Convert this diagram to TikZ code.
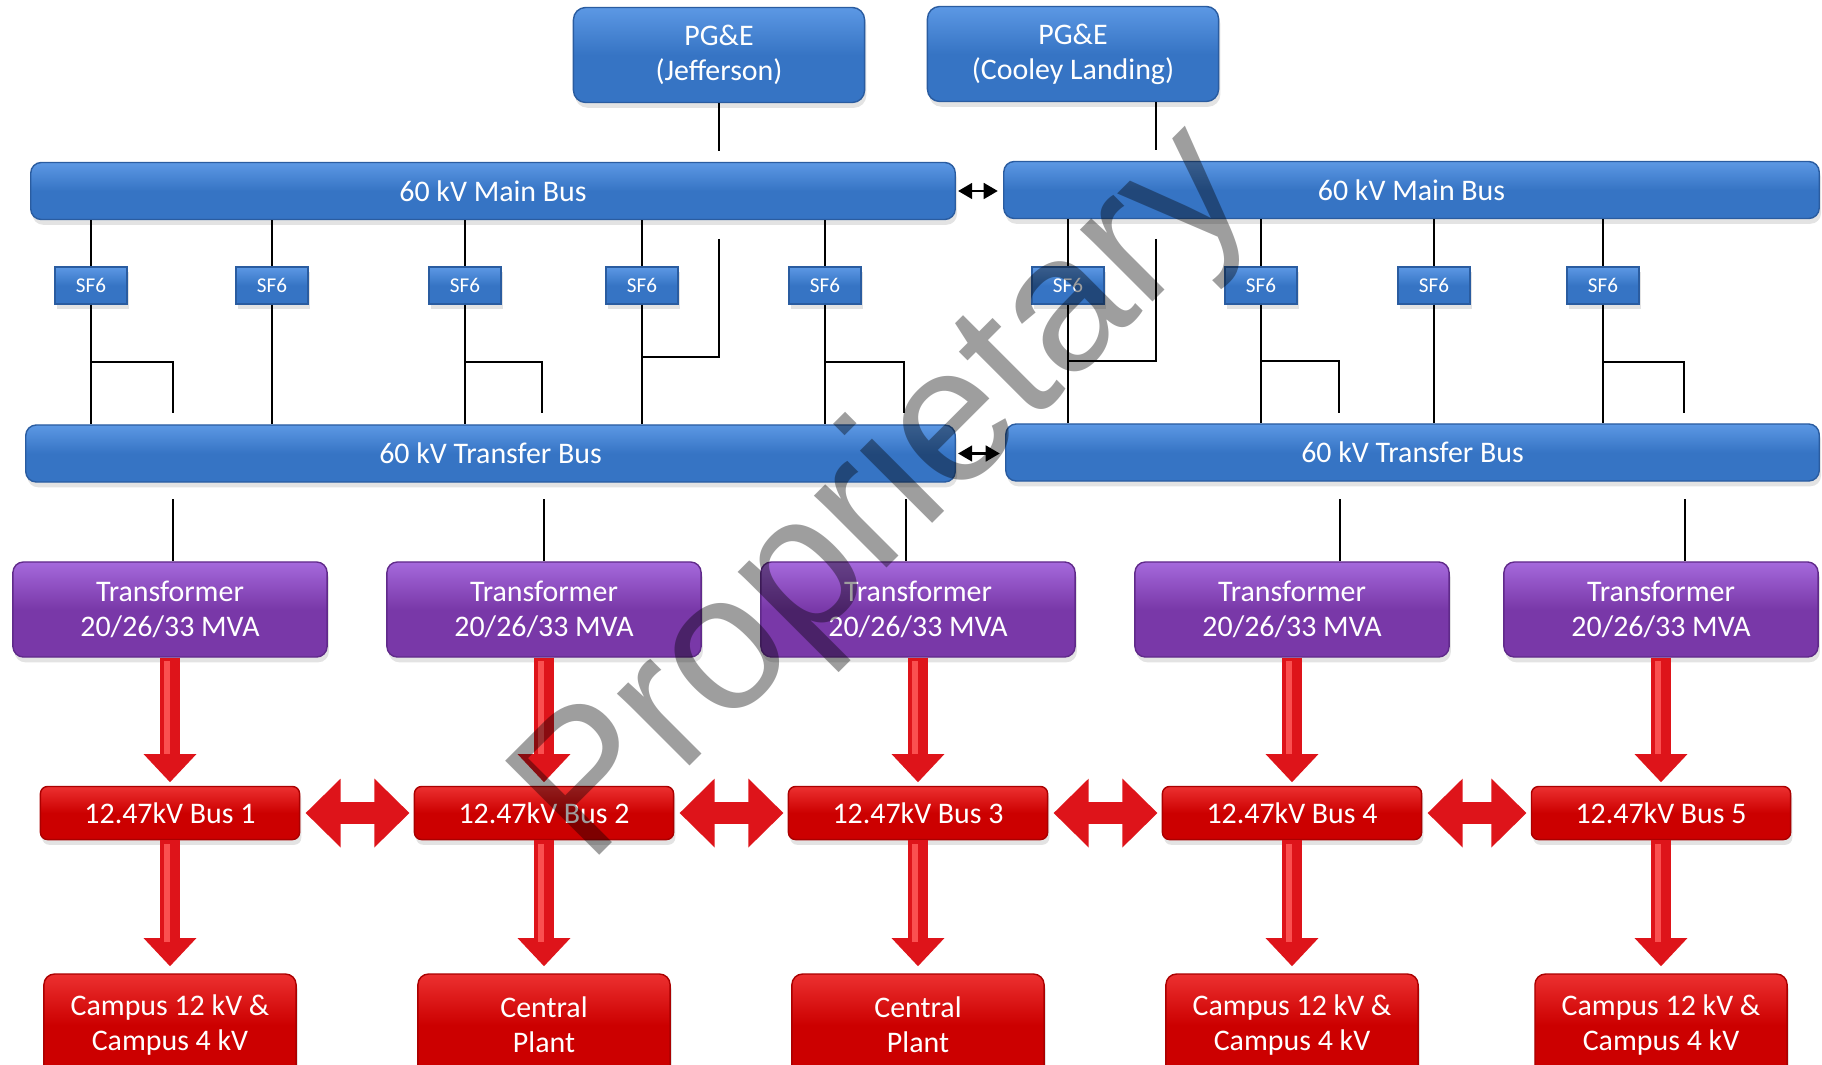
\documentclass[tikz,border=0pt]{standalone}
\usepackage{fontspec}
\setmainfont{Carlito}
\newfontfamily\wmfont{Liberation Sans}
\usetikzlibrary{positioning,arrows.meta,shadows}

\definecolor{busblue}{RGB}{54,116,196}
\definecolor{busblueT}{RGB}{92,152,228}
\definecolor{busedge}{RGB}{42,92,160}
\definecolor{trpurple}{RGB}{121,56,168}
\definecolor{trpurpleT}{RGB}{165,105,220}
\definecolor{tredge}{RGB}{96,42,138}
\definecolor{lvred}{RGB}{204,0,0}
\definecolor{lvredT}{RGB}{236,48,48}
\definecolor{lvedge}{RGB}{170,0,0}
\definecolor{arrred}{RGB}{222,20,26}
\definecolor{arrhl}{RGB}{250,80,80}

\tikzstyle{box}=[text=white, align=center, inner sep=0pt,
  font=\fontsize{8.5}{10}\selectfont,
  drop shadow={shadow xshift=0.5pt,shadow yshift=-1.5pt,opacity=0.22}]
\tikzstyle{bluebox}=[box, draw=busedge, top color=busblueT, bottom color=busblue, middle color=busblue]
\tikzstyle{pge}=[bluebox, rounded corners=3.5pt, minimum width=2.91cm, minimum height=0.95cm]
\tikzstyle{hvbus}=[bluebox, rounded corners=3pt, minimum height=0.57cm]
\tikzstyle{breaker}=[bluebox, minimum width=0.72cm, minimum height=0.37cm, font=\fontsize{6}{7}\selectfont]
\tikzstyle{xfmr}=[box, draw=tredge, top color=trpurpleT, bottom color=trpurple, middle color=trpurple,
  rounded corners=3pt, minimum width=3.14cm, minimum height=0.95cm]
\tikzstyle{redbox}=[box, draw=lvedge, top color=lvredT, bottom color=lvred, middle color=lvred]
\tikzstyle{lvbus}=[redbox, rounded corners=2pt, minimum width=2.59cm, minimum height=0.53cm]
\tikzstyle{load}=[redbox, rounded corners=3pt, minimum width=2.52cm, minimum height=1.02cm]
\tikzstyle{blk}=[line width=0.6pt, black]
\tikzstyle{mvtie}=[line width=0.6pt, {Triangle[length=4pt,width=4.5pt]}-{Triangle[length=4pt,width=4.5pt]},
  shorten <=0.6pt, shorten >=1.5pt]
\tikzstyle{feedarrow}=[arrred, line width=5.6pt, -{Triangle[length=8pt,width=14.5pt]}]
\tikzstyle{shine}=[postaction={draw=arrhl, line width=1.6pt, -, shorten <=1pt, shorten >=9pt,
  transform canvas={xshift=-0.9pt}}]
\tikzstyle{lvtie}=[arrred, line width=6.4pt, {Triangle[length=10pt,width=19pt]}-{Triangle[length=10pt,width=19pt]},
  shorten <=1.5pt, shorten >=1.2pt]
\tikzstyle{wmark}=[rotate=45, inner sep=0pt, text=black, text opacity=0.38,
  font=\wmfont\fontsize{55}{55}\selectfont]

\begin{document}
\begin{tikzpicture}[x=0.01cm,y=-0.01cm]
    \useasboundingbox (0,0) rectangle (1822,1064);

          % supply and 60 kV buses
          \node[pge]   (pg_j) at (719,55)  {PG\&E\\(Jefferson)};
          \node[pge]   (pg_c) at (1073,54) {PG\&E\\(Cooley Landing)};
          \node[hvbus, minimum width=9.24cm] (mb_l) at (493,191)    {60 kV Main Bus};
          \node[hvbus, minimum width=8.15cm] (mb_r) at (1411.5,190) {60 kV Main Bus};
          \node[hvbus, minimum width=9.29cm] (tb_l) at (490.5,453.5) {60 kV Transfer Bus};
          \node[hvbus, minimum width=8.13cm] (tb_r) at (1412.5,452.5) {60 kV Transfer Bus};

          \node[breaker] (sf_1) at (91,285.5)   {SF6};
          \node[breaker] (sf_2) at (272,285.5)  {SF6};
          \node[breaker] (sf_3) at (465,285.5)  {SF6};
          \node[breaker] (sf_4) at (642,285.5)  {SF6};
          \node[breaker] (sf_5) at (825,285.5)  {SF6};
          \node[breaker] (sf_6) at (1068,285.5) {SF6};
          \node[breaker] (sf_7) at (1261,285.5) {SF6};
          \node[breaker] (sf_8) at (1434,285.5) {SF6};
          \node[breaker] (sf_9) at (1603,285.5) {SF6};

          % transformers, 12.47 kV buses and loads
          \node[xfmr]  (tr_1) at (170,609.5)  {Transformer\\20/26/33 MVA};
          \node[xfmr]  (tr_2) at (544,609.5)  {Transformer\\20/26/33 MVA};
          \node[xfmr]  (tr_3) at (918,609.5)  {Transformer\\20/26/33 MVA};
          \node[xfmr]  (tr_4) at (1292,609.5) {Transformer\\20/26/33 MVA};
          \node[xfmr]  (tr_5) at (1661,609.5) {Transformer\\20/26/33 MVA};

          \node[lvbus] (bus_1) [below=1.28cm of tr_1] {12.47kV Bus 1};
          \node[lvbus] (bus_2) [below=1.28cm of tr_2] {12.47kV Bus 2};
          \node[lvbus] (bus_3) [below=1.28cm of tr_3] {12.47kV Bus 3};
          \node[lvbus] (bus_4) [below=1.28cm of tr_4] {12.47kV Bus 4};
          \node[lvbus] (bus_5) [below=1.28cm of tr_5] {12.47kV Bus 5};

          \node[load]  (ld_1) [below=1.33cm of bus_1] {Campus 12 kV \&\\Campus 4 kV};
          \node[load]  (ld_2) [below=1.33cm of bus_2] {Central\\Plant};
          \node[load]  (ld_3) [below=1.33cm of bus_3] {Central\\Plant};
          \node[load]  (ld_4) [below=1.33cm of bus_4] {Campus 12 kV \&\\Campus 4 kV};
          \node[load]  (ld_5) [below=1.33cm of bus_5] {Campus 12 kV \&\\Campus 4 kV};

          % free ends of the black lines
          \coordinate (jf_a) at (719,239);  \coordinate (jf_b) at (719,357);
          \coordinate (cl_t) at (1156,150); \coordinate (cl_a) at (1156,239);
          \coordinate (cl_b) at (1156,361);
          \coordinate (kn_1) at (173,362);  \coordinate (kn_2) at (542,362);
          \coordinate (kn_3) at (904,362);  \coordinate (kn_4) at (1339,361);
          \coordinate (kn_5) at (1684,362);
          \coordinate (fd_1) at (173,499);  \coordinate (fd_2) at (544,499);
          \coordinate (fd_3) at (906,499);  \coordinate (fd_4) at (1340,499);
          \coordinate (fd_5) at (1685,499);

          \draw[blk] (pg_j.south) -- ++(0,48);
          \draw[blk] (pg_c.south -| cl_t) -- (cl_t);
          \draw[blk] (jf_a) -- (jf_b) -- (jf_b -| sf_4);
          \draw[blk] (cl_a) -- (cl_b) -- (cl_b -| sf_6);

          \draw[blk] (sf_1 |- mb_l.south) -- (sf_1.north) (sf_1.south) -- (sf_1 |- tb_l.north);
          \draw[blk] (sf_2 |- mb_l.south) -- (sf_2.north) (sf_2.south) -- (sf_2 |- tb_l.north);
          \draw[blk] (sf_3 |- mb_l.south) -- (sf_3.north) (sf_3.south) -- (sf_3 |- tb_l.north);
          \draw[blk] (sf_4 |- mb_l.south) -- (sf_4.north) (sf_4.south) -- (sf_4 |- tb_l.north);
          \draw[blk] (sf_5 |- mb_l.south) -- (sf_5.north) (sf_5.south) -- (sf_5 |- tb_l.north);
          \draw[blk] (sf_6 |- mb_r.south) -- (sf_6.north) (sf_6.south) -- (sf_6 |- tb_r.north);
          \draw[blk] (sf_7 |- mb_r.south) -- (sf_7.north) (sf_7.south) -- (sf_7 |- tb_r.north);
          \draw[blk] (sf_8 |- mb_r.south) -- (sf_8.north) (sf_8.south) -- (sf_8 |- tb_r.north);
          \draw[blk] (sf_9 |- mb_r.south) -- (sf_9.north) (sf_9.south) -- (sf_9 |- tb_r.north);

          \draw[blk] (sf_1 |- kn_1) -- (kn_1) -- ++(0,51);
          \draw[blk] (sf_3 |- kn_2) -- (kn_2) -- ++(0,51);
          \draw[blk] (sf_5 |- kn_3) -- (kn_3) -- ++(0,51);
          \draw[blk] (sf_7 |- kn_4) -- (kn_4) -- ++(0,52);
          \draw[blk] (sf_9 |- kn_5) -- (kn_5) -- ++(0,51);

          \draw[blk] (fd_1) -- (fd_1 |- tr_1.north);
          \draw[blk] (fd_2) -- (fd_2 |- tr_2.north);
          \draw[blk] (fd_3) -- (fd_3 |- tr_3.north);
          \draw[blk] (fd_4) -- (fd_4 |- tr_4.north);
          \draw[blk] (fd_5) -- (fd_5 |- tr_5.north);

          \draw[mvtie] (mb_l.east) -- (mb_l.east -| mb_r.west);
          \draw[mvtie] (tb_l.east) -- (tb_l.east -| tb_r.west);

          % red power flow arrows
          \path[feedarrow] (tr_1) edge[shine, shorten >=1pt] (bus_1)
                           (tr_2) edge[shine, shorten >=1pt] (bus_2)
                           (tr_3) edge[shine, shorten >=1pt] (bus_3)
                           (tr_4) edge[shine, shorten >=1pt] (bus_4)
                           (tr_5) edge[shine, shorten >=1pt] (bus_5)
                           (bus_1) edge[shine, shorten >=2pt] (ld_1)
                           (bus_2) edge[shine, shorten >=2pt] (ld_2)
                           (bus_3) edge[shine, shorten >=2pt] (ld_3)
                           (bus_4) edge[shine, shorten >=2pt] (ld_4)
                           (bus_5) edge[shine, shorten >=2pt] (ld_5);
          \draw[lvtie] (bus_1.east) -- (bus_2.west);
          \draw[lvtie] (bus_2.east) -- (bus_3.west);
          \draw[lvtie] (bus_3.east) -- (bus_4.west);
          \draw[lvtie] (bus_4.east) -- (bus_5.west);

          \node[wmark] (wm) at (888,497) {Proprietary};
        \end{tikzpicture}
\end{document}
